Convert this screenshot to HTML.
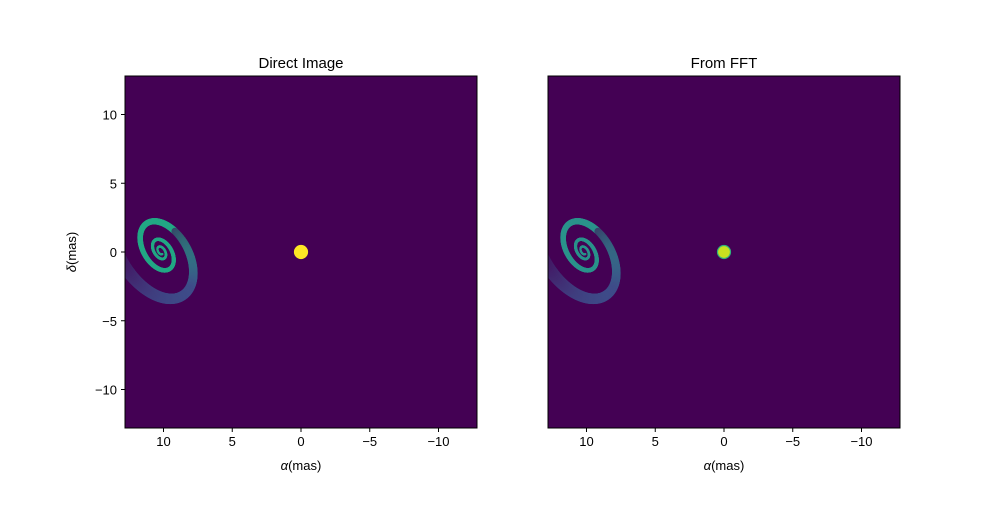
<!DOCTYPE html>
<html><head><meta charset="utf-8"><style>
body{margin:0;background:#fff;font-family:"Liberation Sans","DejaVu Sans",sans-serif}
svg text{font-family:"Liberation Sans","DejaVu Sans",sans-serif;font-size:13px;fill:#000}
</style></head><body>
<svg id="s" width="1000" height="500">
</svg>
<script>
const xTicks=[10,5,0,-5,-10];
const yTicks=[10,5,0,-5,-10];
const extent=12.8;
const starPos=[0,0];
const spiralCenter=[10.2,0.05];
const panels=[{x0:125,title:"Direct Image",star:"#fde725",starEdge:"#fde725",arm:"#22a884",yaxis:true,name:"direct-image-panel"},
              {x0:548,title:"From FFT",star:"#c8e020",starEdge:"#2fb47c",arm:"#2a938b",yaxis:false,name:"fft-panel"}];
const S=document.getElementById('s'),NS="http://www.w3.org/2000/svg";
const W=352,Y0=76;
function el(t,a,p){const e=document.createElementNS(NS,t);for(const k in a)e.setAttribute(k,a[k]);(p||S).appendChild(e);return e;}
function hx(a){return [1,3,5].map(i=>parseInt(a.substr(i,2),16));}
function mixA(pa,pb,f){return pa.map((v,i)=>v+(pb[i]-v)*f);}
function rgb(c){return 'rgb('+c.map(Math.round).join(',')+')';}
const BG=hx('#440154'),BAND=hx('#3e4f8b');
const defs=el('defs',{});
panels.forEach((p,pi)=>{
  const sx=v=>p.x0+(extent-v)/(2*extent)*W, sy=v=>Y0+(extent-v)/(2*extent)*W;
  const cp=el('clipPath',{id:'clip'+pi},defs);el('rect',{x:p.x0,y:Y0,width:W,height:W},cp);
  const g=el('g',{});
  
  el('rect',{x:p.x0,y:Y0,width:W,height:W,fill:'#440154'},g);
  const sg=el('g',{'clip-path':'url(#clip'+pi+')'},g);
  
  const cx=sx(spiralCenter[0]),cy=sy(spiralCenter[1]);
  const k=Math.log(2.5)/(2*Math.PI),ang=59*Math.PI/180,el2=1.6,sc=1.3;
  const ARM=hx(p.arm);
  let prev=null;
  for(let t=0;t<=6.8*Math.PI;t+=0.03){
    const r=1.5*Math.exp(k*t);
    const u=r*Math.cos(t)*el2*sc,v=r*Math.sin(t)*sc;
    const X=cx+u*Math.cos(ang)-v*Math.sin(ang),Y=cy+u*Math.sin(ang)+v*Math.cos(ang);
    if(prev){
      let col,w;
      if(r<18){col=rgb(ARM);w=1.5+r*0.3;}
      else{const f=Math.min(1,(r-18)/15);let c=mixA(ARM,BAND,Math.min(1,f*3));w=7+f*7;
        const dx=X-cx,dy=Y-cy,dd=Math.hypot(dx,dy)||1;const fade=((dx*0.55+dy*0.83)/dd+1)/2;
        c=mixA(c,BG,Math.max(0,Math.min(1,(1-fade)*0.85+f*0.1)));col=rgb(c);}
      const ln=el('line',{x1:prev[0],y1:prev[1],x2:X,y2:Y,stroke:col,'stroke-width':w,'stroke-linecap':'round'},sg);
      
    }
    prev=[X,Y];
  }
  const st=el('circle',{cx:sx(starPos[0]),cy:sy(starPos[1]),r:6.5,fill:p.star,stroke:p.starEdge,'stroke-width':1.2},g);
  
  el('rect',{x:p.x0,y:Y0,width:W,height:W,fill:'none',stroke:'#000','stroke-width':1},g);
  xTicks.forEach(v=>{const x=sx(v);el('line',{x1:x,x2:x,y1:Y0+W,y2:Y0+W+4,stroke:'#000'},g);
    const t=el('text',{x:x,y:Y0+W+18,'text-anchor':'middle'},g);t.textContent=v<0?'\u2212'+(-v):v;
    });
  const xt=el('text',{x:p.x0+W/2,y:470,'text-anchor':'middle'},g);xt.innerHTML='<tspan font-style="italic">α</tspan>(mas)';
  
  const tt=el('text',{x:p.x0+W/2,y:68,'text-anchor':'middle'},g);tt.style.fontSize='15px';tt.textContent=p.title;
  
  if(p.yaxis){
    yTicks.forEach(v=>{const y=sy(v);el('line',{x1:p.x0-4,x2:p.x0,y1:y,y2:y,stroke:'#000'},g);
      const t=el('text',{x:p.x0-8,y:y+5,'text-anchor':'end'},g);t.textContent=v<0?'\u2212'+(-v):v;
      });
    const yt=el('text',{x:0,y:0,'text-anchor':'middle',transform:'translate(76,252) rotate(-90)'},g);yt.innerHTML='<tspan font-style="italic">δ</tspan>(mas)';
    
  }
});
</script>
</body></html>
